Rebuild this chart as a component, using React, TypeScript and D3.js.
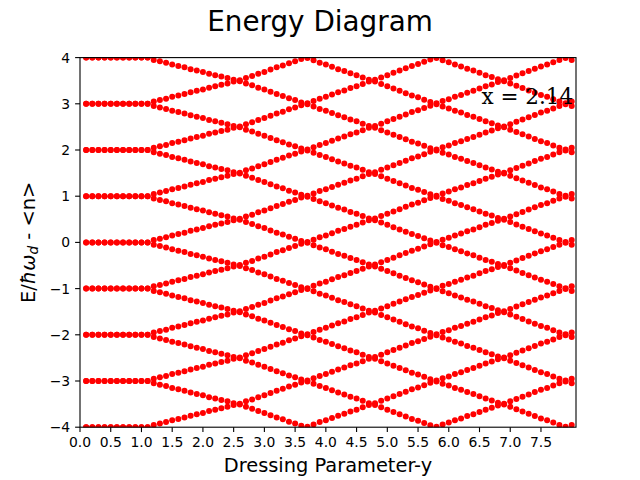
import React, { useEffect } from 'react'
import * as d3 from 'd3'

// dressing parameter samples (x positions of the dots)
const sampleX = [
  0.1, 0.2, 0.3, 0.4, 0.5, 0.6, 0.7, 0.8, 0.9, 1.0,
  1.1, 1.2, 1.3, 1.4, 1.5, 1.6, 1.7, 1.8, 1.9, 2.0,
  2.1, 2.2, 2.3, 2.4, 2.5, 2.6, 2.7, 2.8, 2.9, 3.0,
  3.1, 3.2, 3.3, 3.4, 3.5, 3.6, 3.7, 3.8, 3.9, 4.0,
  4.1, 4.2, 4.3, 4.4, 4.5, 4.6, 4.7, 4.8, 4.9, 5.0,
  5.1, 5.2, 5.3, 5.4, 5.5, 5.6, 5.7, 5.8, 5.9, 6.0,
  6.1, 6.2, 6.3, 6.4, 6.5, 6.6, 6.7, 6.8, 6.9, 7.0,
  7.1, 7.2, 7.3, 7.4, 7.5, 7.6, 7.7, 7.8, 7.9, 8.0,
]

// distance of each branch from its integer level
const splitting = [
  0, 0, 0, 0, 0, 0, 0, 0, 0, 0,
  0, 0.05, 0.08, 0.11, 0.15, 0.18, 0.21, 0.25, 0.28, 0.31,
  0.35, 0.38, 0.41, 0.44, 0.48, 0.49, 0.44, 0.40, 0.35, 0.31,
  0.26, 0.21, 0.17, 0.12, 0.08, 0.03, 0.01, 0.06, 0.11, 0.15,
  0.20, 0.25, 0.29, 0.34, 0.38, 0.43, 0.48, 0.48, 0.43, 0.38,
  0.33, 0.28, 0.23, 0.18, 0.14, 0.09, 0.04, 0.01, 0.06, 0.10,
  0.15, 0.19, 0.24, 0.28, 0.33, 0.38, 0.42, 0.47, 0.49, 0.44,
  0.39, 0.34, 0.29, 0.24, 0.19, 0.15, 0.10, 0.05, 0.01, 0.05,
]

const levels = [-4, -3, -2, -1, 0, 1, 2, 3, 4]
const xTicks = [0, 0.5, 1, 1.5, 2, 2.5, 3, 3.5, 4, 4.5, 5, 5.5, 6, 6.5, 7, 7.5]
const yTicks = [-4, -3, -2, -1, 0, 1, 2, 3, 4]

const W = 640
const H = 480
const margin = { top: 57.6, right: 64, bottom: 52.8, left: 80 }
const SANS = 'DejaVu Sans, sans-serif'

export default function App() {
  useEffect(() => {
    document.body.style.margin = '0'
  }, [])

  const innerW = W - margin.left - margin.right
  const innerH = H - margin.top - margin.bottom

  const x = d3.scaleLinear().domain([0, 8.07]).range([0, innerW])
  const y = d3.scaleLinear().domain([-4, 4]).range([innerH, 0])

  const points: { px: number; py: number }[] = []
  levels.forEach(n => {
    sampleX.forEach((sx, i) => {
      const e = splitting[i]
      points.push({ px: x(sx), py: y(n + e) })
      points.push({ px: x(sx), py: y(n - e) })
    })
  })

  const fmtX = d3.format('.1f')
  const fmtY = (v: number) => (v < 0 ? '\u2212' + Math.abs(v) : String(v))

  return (
    <svg width={W} height={H} style={{ display: 'block', background: '#fff' }}>
      <defs>
        <clipPath id="plotClip">
          <rect x={0} y={0} width={innerW} height={innerH} />
        </clipPath>
      </defs>

      <text x={W / 2} y={31} textAnchor="middle" fontFamily={SANS} fontSize={27.8} fill="#000">
        Energy Diagram
      </text>

      <g transform={`translate(${margin.left},${margin.top})`}>
        <g clipPath="url(#plotClip)">
          {points.map((p, i) => (
            <circle key={i} cx={p.px} cy={p.py} r={3} fill="#ff0000" />
          ))}
        </g>

        <text x={x(6.5) + 2} y={y(3)} fontFamily="DejaVu Serif, serif" fontSize={21.5} fill="#000">
          x = 2.14
        </text>

        <rect x={0} y={0} width={innerW} height={innerH} fill="none" stroke="#000" strokeWidth={1.1} />

        {xTicks.map(t => (
          <g key={'x' + t} transform={`translate(${x(t)},${innerH})`}>
            <line y1={0} y2={4.9} stroke="#000" strokeWidth={1.1} />
            <text y={20} textAnchor="middle" fontFamily={SANS} fontSize={13.9} fill="#000">
              {fmtX(t)}
            </text>
          </g>
        ))}

        {yTicks.map(t => (
          <g key={'y' + t} transform={`translate(0,${y(t)})`}>
            <line x1={0} x2={-4.9} stroke="#000" strokeWidth={1.1} />
            <text x={-9.8} dy="0.36em" textAnchor="end" fontFamily={SANS} fontSize={13.9} fill="#000">
              {fmtY(t)}
            </text>
          </g>
        ))}

        <text x={innerW / 2} y={innerH + 44.5} textAnchor="middle" fontFamily={SANS} fontSize={19.4} fill="#000">
          Dressing Parameter-y
        </text>
      </g>

      <text
        transform={`translate(35,${margin.top + innerH / 2}) rotate(-90)`}
        textAnchor="middle"
        fontFamily={SANS}
        fontSize={19.4}
        fill="#000"
      >
        E/<tspan fontStyle="italic">ħω</tspan>
        <tspan fontStyle="italic" fontSize={13.6} dy={3}>d</tspan>
        <tspan dy={-3}> - &lt;n&gt;</tspan>
      </text>
    </svg>
  )
}
